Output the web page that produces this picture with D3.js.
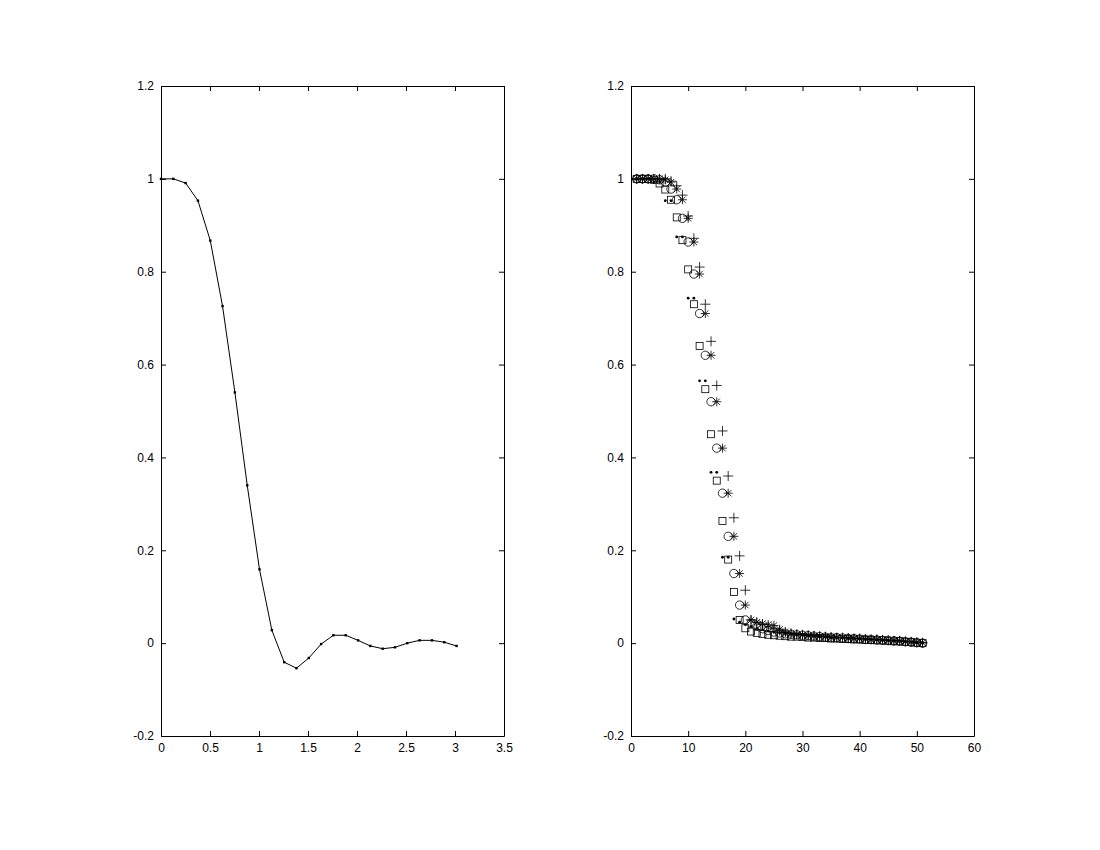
<!DOCTYPE html>
<html>
<head>
<meta charset="utf-8">
<script src="https://cdn.jsdelivr.net/npm/d3@7"></script>
<style>
  body { margin: 0; background: #fff; }
  svg { display: block; }
</style>
</head>
<body>
<svg width="1100" height="850"></svg>
<script>
// Left panel: sampled curve
var leftX = [0, 0.126, 0.251, 0.377, 0.503, 0.628, 0.754, 0.880, 1.005, 1.131, 1.257, 1.382, 1.508,
    1.634, 1.759, 1.885, 2.011, 2.136, 2.262, 2.388, 2.513, 2.639, 2.765, 2.890, 3.016];
var leftY = [1.0, 1.0, 0.991, 0.953, 0.867, 0.726, 0.54, 0.34, 0.159, 0.028, -0.041, -0.054, -0.032,
    -0.002, 0.017, 0.017, 0.006, -0.006, -0.012, -0.009, 0.0, 0.006, 0.006, 0.002, -0.006];

// Right panel: five marker series at k = 1..51
var rightX = [1, 2, 3, 4, 5, 6, 7, 8, 9, 10, 11, 12, 13, 14, 15, 16, 17, 18, 19, 20,
    21, 22, 23, 24, 25, 26, 27, 28, 29, 30, 31, 32, 33, 34, 35, 36, 37, 38, 39, 40,
    41, 42, 43, 44, 45, 46, 47, 48, 49, 50, 51];
var dotY = [1.0, 1.0, 1.0, 0.993, 0.993, 0.953, 0.953, 0.875, 0.875, 0.743, 0.743, 0.565, 0.565, 0.368, 0.368, 0.185, 0.185, 0.052, 0.045, 0.040,
    0.036, 0.032, 0.029, 0.026, 0.024, 0.022, 0.020, 0.019, 0.018, 0.017, 0.016, 0.015, 0.014, 0.013, 0.012, 0.012, 0.011, 0.010, 0.010, 0.009,
    0.008, 0.008, 0.007, 0.006, 0.006, 0.005, 0.004, 0.003, 0.002, 0.001, 0.0];
var squareY = [1.0, 1.0, 1.0, 0.998, 0.99, 0.977, 0.955, 0.917, 0.868, 0.805, 0.73, 0.64, 0.547, 0.45, 0.35, 0.263, 0.18, 0.11, 0.05, 0.032,
    0.025, 0.022, 0.020, 0.018, 0.017, 0.016, 0.015, 0.014, 0.014, 0.013, 0.012, 0.012, 0.011, 0.011, 0.010, 0.010, 0.009, 0.009, 0.008, 0.008,
    0.007, 0.007, 0.006, 0.006, 0.005, 0.004, 0.004, 0.003, 0.002, 0.001, 0.0];
var plusY = [1.0, 1.0, 1.0, 1.0, 1.0, 1.0, 0.995, 0.985, 0.965, 0.92, 0.872, 0.81, 0.73, 0.65, 0.555, 0.457, 0.36, 0.27, 0.188, 0.114,
    0.05, 0.045, 0.040, 0.035, 0.031, 0.027, 0.024, 0.021, 0.019, 0.018, 0.017, 0.016, 0.015, 0.014, 0.013, 0.012, 0.012, 0.011, 0.010, 0.010,
    0.009, 0.008, 0.008, 0.007, 0.006, 0.005, 0.005, 0.004, 0.003, 0.002, 0.001];
var circleY = [1.0, 1.0, 1.0, 1.0, 0.998, 0.993, 0.978, 0.955, 0.915, 0.864, 0.795, 0.71, 0.62, 0.52, 0.42, 0.323, 0.23, 0.15, 0.082, 0.05,
    0.042, 0.036, 0.031, 0.027, 0.024, 0.022, 0.020, 0.019, 0.018, 0.017, 0.016, 0.015, 0.014, 0.013, 0.012, 0.012, 0.011, 0.010, 0.010, 0.009,
    0.008, 0.008, 0.007, 0.006, 0.006, 0.005, 0.004, 0.003, 0.002, 0.001, 0.0];
var starY = [1.0, 1.0, 1.0, 1.0, 1.0, 0.998, 0.993, 0.978, 0.955, 0.915, 0.864, 0.795, 0.71, 0.62, 0.52, 0.42, 0.323, 0.23, 0.15, 0.082,
    0.05, 0.045, 0.042, 0.040, 0.038, 0.030, 0.024, 0.021, 0.019, 0.018, 0.017, 0.016, 0.015, 0.014, 0.013, 0.012, 0.012, 0.011, 0.010, 0.010,
    0.009, 0.008, 0.008, 0.007, 0.006, 0.006, 0.005, 0.004, 0.003, 0.002, 0.001];

var yTicks = [-0.2, 0, 0.2, 0.4, 0.6, 0.8, 1, 1.2];
var leftXTicks = [0, 0.5, 1, 1.5, 2, 2.5, 3, 3.5];
var rightXTicks = [0, 10, 20, 30, 40, 50, 60];

var svg = d3.select("svg");
var top_ = 86, bottom = 736;
var tickLen = 5;

function fmt(d) { return String(+d.toFixed(2)); }

function drawPanel(x0, x1, xDomain, xTicks) {
    var x = d3.scaleLinear().domain(xDomain).range([x0, x1]);
    var y = d3.scaleLinear().domain([-0.2, 1.2]).range([bottom, top_]);
    var g = svg.append("g");

    g.append("g").attr("transform", "translate(0," + bottom + ")")
        .call(d3.axisBottom(x).tickValues(xTicks).tickFormat(fmt).tickSizeInner(-tickLen).tickSizeOuter(0).tickPadding(7));
    g.append("g").attr("transform", "translate(0," + top_ + ")")
        .call(d3.axisTop(x).tickValues(xTicks).tickFormat("").tickSizeInner(-tickLen).tickSizeOuter(0));
    g.append("g").attr("transform", "translate(" + x0 + ",0)")
        .call(d3.axisLeft(y).tickValues(yTicks).tickFormat(fmt).tickSizeInner(-tickLen).tickSizeOuter(0).tickPadding(7));
    g.append("g").attr("transform", "translate(" + x1 + ",0)")
        .call(d3.axisRight(y).tickValues(yTicks).tickFormat("").tickSizeInner(-tickLen).tickSizeOuter(0));

    g.selectAll(".domain").attr("stroke", "#000").attr("stroke-width", 1);
    g.selectAll(".tick line").attr("stroke", "#000");
    g.selectAll(".tick text")
        .attr("font-family", "'Liberation Sans', Arial, sans-serif")
        .attr("font-size", 12)
        .attr("fill", "#000");

    return { g: g, x: x, y: y };
}

// left panel
var L = drawPanel(161, 504, [0, 3.5], leftXTicks);
var leftPts = leftX.map(function (d, i) { return [d, leftY[i]]; });
L.g.append("path")
    .datum(leftPts)
    .attr("fill", "none")
    .attr("stroke", "#000")
    .attr("stroke-width", 1)
    .attr("d", d3.line().x(function (d) { return L.x(d[0]); }).y(function (d) { return L.y(d[1]); }));
L.g.selectAll(".pt").data(leftPts).enter().append("rect")
    .attr("x", function (d) { return L.x(d[0]) - 1.2; })
    .attr("y", function (d) { return L.y(d[1]) - 1.2; })
    .attr("width", 2.4).attr("height", 2.4)
    .attr("fill", "#000");

// right panel
var R = drawPanel(631, 974, [0, 60], rightXTicks);

function series(ys) { return rightX.map(function (d, i) { return [d, ys[i]]; }); }
function place(d) { return "translate(" + R.x(d[0]) + "," + R.y(d[1]) + ")"; }

// dots
R.g.selectAll(".dot").data(series(dotY)).enter().append("circle")
    .attr("transform", place).attr("r", 1.4).attr("fill", "#000");

// squares
R.g.selectAll(".sq").data(series(squareY)).enter().append("rect")
    .attr("transform", place)
    .attr("x", -3.5).attr("y", -3.5).attr("width", 7).attr("height", 7)
    .attr("fill", "none").attr("stroke", "#000").attr("stroke-width", 0.8);

// plus
R.g.selectAll(".pl").data(series(plusY)).enter().append("path")
    .attr("transform", place)
    .attr("d", "M-5,0H5M0,-5V5")
    .attr("fill", "none").attr("stroke", "#000").attr("stroke-width", 0.8);

// circles
R.g.selectAll(".ci").data(series(circleY)).enter().append("circle")
    .attr("transform", place).attr("r", 4.2)
    .attr("fill", "none").attr("stroke", "#000").attr("stroke-width", 0.8);

// stars
R.g.selectAll(".st").data(series(starY)).enter().append("path")
    .attr("transform", place)
    .attr("d", "M-4.5,0H4.5M0,-4.5V4.5M-3.2,-3.2L3.2,3.2M-3.2,3.2L3.2,-3.2")
    .attr("fill", "none").attr("stroke", "#000").attr("stroke-width", 0.8);
</script>
</body>
</html>
